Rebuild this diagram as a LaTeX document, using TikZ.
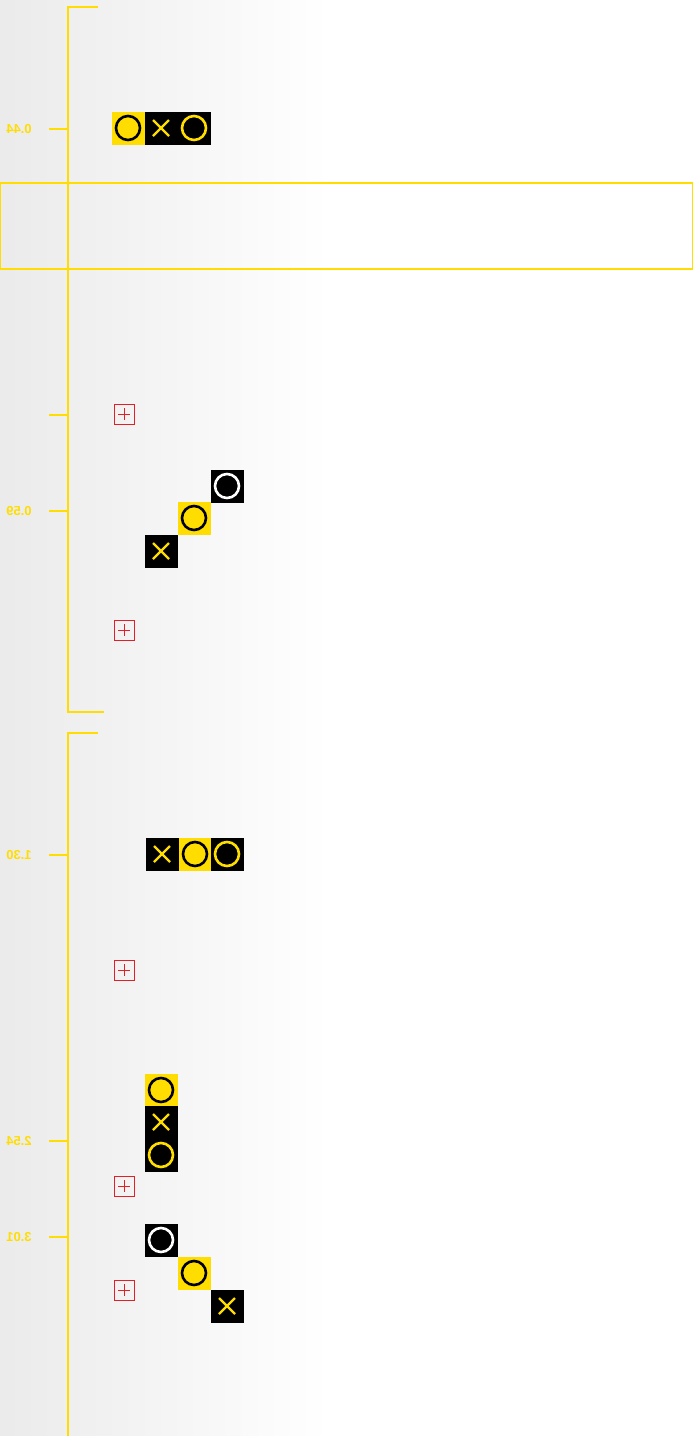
\documentclass[tikz,border=0pt]{standalone}
\usepackage{fontspec}
\setsansfont{Liberation Sans}
\definecolor{hiyellow}{RGB}{255,221,0}
\definecolor{markred}{RGB}{226,30,38}
\begin{document}
\begin{tikzpicture}[x=1pt, y=-1pt,
  every node/.style={font=\sffamily\bfseries\fontsize{13}{13}\selectfont, text=hiyellow},
  tile/.style={minimum size=33pt, inner sep=0pt, outer sep=0pt},
  tileA/.style={tile, fill=hiyellow, path picture={\draw[line width=2.6pt, draw=black, fill=hiyellow] (path picture bounding box.center) circle (12pt);}},
  tileB/.style={tile, fill=black, path picture={\draw[line width=2.2pt, draw=hiyellow] ([shift={(-8pt,-8pt)}]path picture bounding box.center) -- ([shift={(8pt,8pt)}]path picture bounding box.center) ([shift={(-8pt,8pt)}]path picture bounding box.center) -- ([shift={(8pt,-8pt)}]path picture bounding box.center);}},
  tileC/.style={tile, fill=black, path picture={\draw[line width=2.6pt, draw=hiyellow] (path picture bounding box.center) circle (12pt);}},
  tileD/.style={tile, fill=black, path picture={\draw[line width=2.6pt, draw=white] (path picture bounding box.center) circle (12pt);}},
  markbox/.style={minimum size=20pt, inner sep=0pt, draw=markred, line width=1pt, path picture={\draw[markred, line width=1pt] ([xshift=-6pt]path picture bounding box.center) -- ([xshift=6pt]path picture bounding box.center) ([yshift=-6pt]path picture bounding box.center) -- ([yshift=6pt]path picture bounding box.center);}},
  rule/.style={draw=hiyellow, line width=1.4pt}]
\useasboundingbox (0,0) rectangle (693,1436);
% background
\shade[left color=black!8, right color=white] (0,0) rectangle (330,1436);
% brackets and band
\draw[rule] (98,7) -- (68,7) -- (68,712) -- (104,712);
\draw[rule] (98,733) -- (68,733) -- (68,1436);
\draw[draw=hiyellow, line width=1.4pt] (0.7,183) rectangle (692.3,269);
% ticks
\foreach \y/\t in {129/0.44, 511/0.59, 855/1.30, 1141/2.54, 1237/3.01} {
  \draw[rule, line width=2pt] (49,\y) -- (68,\y);
  \node (lab\t) at (19,\y) {\reflectbox{\t}};
}
\draw[rule, line width=2pt] (49,415) -- (68,415);
% tiles
\foreach \n/\x/\y/\k in {r1/128/128/A, r2/161/128/B, r3/194/128/C,
  s1/227/486/D, s2/194/518/A, s3/161/551/B,
  q1/162/854/B, q2/195/854/A, q3/227/854/C,
  v1/161/1090/A, v2/161/1122/B, v3/161/1155/C,
  t1/161/1240/D, t2/194/1273/A, t3/227/1306/B}
  \node[tile\k] (\n) at (\x,\y) {};
% marks
\foreach \n/\y in {m1/414, m2/630, m3/970, m4/1186, m5/1290}
  \node[markbox] (\n) at (124,\y) {};
\end{tikzpicture}
\end{document}
